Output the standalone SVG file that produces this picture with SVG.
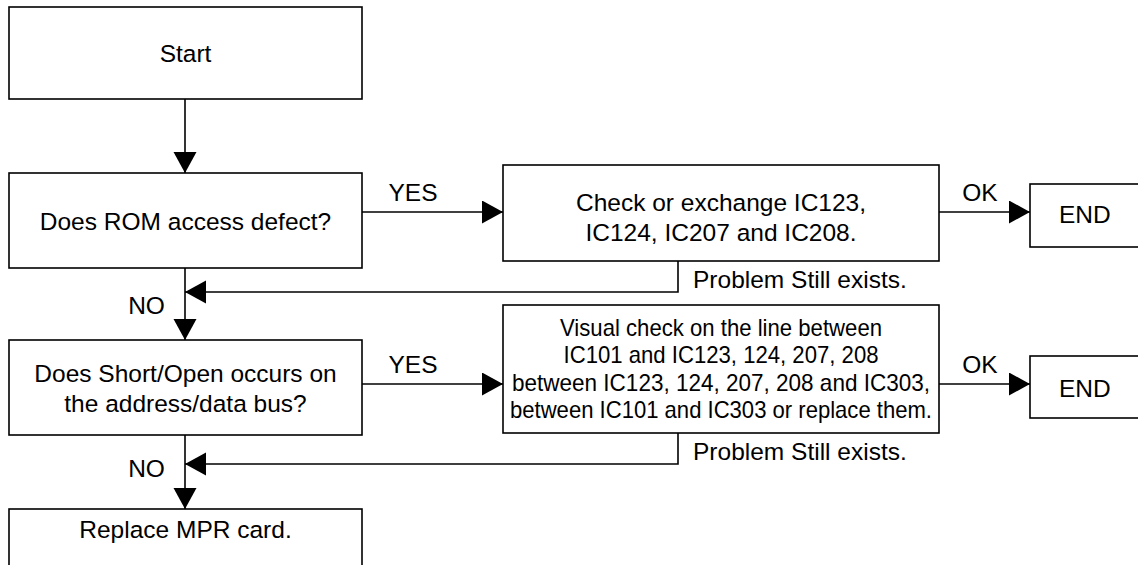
<svg xmlns="http://www.w3.org/2000/svg" width="1138" height="565" viewBox="0 0 1138 565">
<defs>
<style>
rect.box{fill:#fff;stroke:#000;stroke-width:1.6}
.c path,.c line,.c polyline{fill:none;stroke:#000;stroke-width:1.6}
text{font-family:"Liberation Sans",Arial,Helvetica,sans-serif;font-size:24.5px;fill:#000}
.m{text-anchor:middle}
.n{font-size:24px}
</style>
<marker id="ah" markerUnits="userSpaceOnUse" markerWidth="22" markerHeight="24" refX="21" refY="11.5" orient="auto" viewBox="0 0 22 24">
<path d="M0,0 L21,11.5 L0,23 z" fill="#000"/>
</marker>
</defs>
<rect width="1138" height="565" fill="#fff"/>
<g id="start"><rect class="box" x="9" y="7" width="353" height="92"/><text class="m" x="185.5" y="62">Start</text></g>
<g id="q1"><rect class="box" x="9" y="173" width="353" height="95"/><text class="m" x="185.5" y="230">Does ROM access defect?</text></g>
<g id="a1"><rect class="box" x="503" y="165" width="436" height="96"/><text class="m" x="721" y="211">Check or exchange IC123,</text><text class="m" x="721" y="241">IC124, IC207 and IC208.</text></g>
<g id="end1"><rect class="box" x="1030" y="184" width="130" height="63"/><text x="1059" y="223">END</text></g>
<g id="q2"><rect class="box" x="9" y="340" width="353" height="95"/><text class="m" x="185.5" y="382">Does Short/Open occurs on</text><text class="m" x="185.5" y="412">the address/data bus?</text></g>
<g id="a2"><rect class="box" x="503" y="305" width="436" height="128"/>
<text class="m n" x="721" y="336" textLength="322" lengthAdjust="spacingAndGlyphs">Visual check on the line between</text>
<text class="m n" x="721" y="363" textLength="315" lengthAdjust="spacingAndGlyphs">IC101 and IC123, 124, 207, 208</text>
<text class="m n" x="721" y="390.5" textLength="418" lengthAdjust="spacingAndGlyphs">between IC123, 124, 207, 208 and IC303,</text>
<text class="m n" x="721" y="418" textLength="422" lengthAdjust="spacingAndGlyphs">between IC101 and IC303 or replace them.</text></g>
<g id="end2"><rect class="box" x="1030" y="356" width="130" height="62"/><text x="1059" y="397">END</text></g>
<g id="replace"><rect class="box" x="9" y="509" width="353" height="80"/><text class="m" x="185.5" y="538">Replace MPR card.</text></g>
<g id="connectors" class="c">
<line x1="185" y1="99" x2="185" y2="173" marker-end="url(#ah)"/>
<line x1="362" y1="212" x2="503" y2="212" marker-end="url(#ah)"/>
<line x1="939" y1="212" x2="1030" y2="212" marker-end="url(#ah)"/>
<polyline points="678,261 678,292 185,292" marker-end="url(#ah)"/>
<line x1="185" y1="268" x2="185" y2="340" marker-end="url(#ah)"/>
<line x1="362" y1="384" x2="503" y2="384" marker-end="url(#ah)"/>
<line x1="939" y1="384" x2="1030" y2="384" marker-end="url(#ah)"/>
<polyline points="678,433 678,464 185,464" marker-end="url(#ah)"/>
<line x1="185" y1="435" x2="185" y2="509" marker-end="url(#ah)"/>
</g>
<g id="labels">
<text class="m" x="413" y="201">YES</text>
<text class="m" x="980" y="201">OK</text>
<text x="693" y="288">Problem Still exists.</text>
<text class="m" x="146.5" y="314">NO</text>
<text class="m" x="413" y="373">YES</text>
<text class="m" x="980" y="373">OK</text>
<text x="693" y="460">Problem Still exists.</text>
<text class="m" x="146.5" y="477">NO</text>
</g>
</svg>
